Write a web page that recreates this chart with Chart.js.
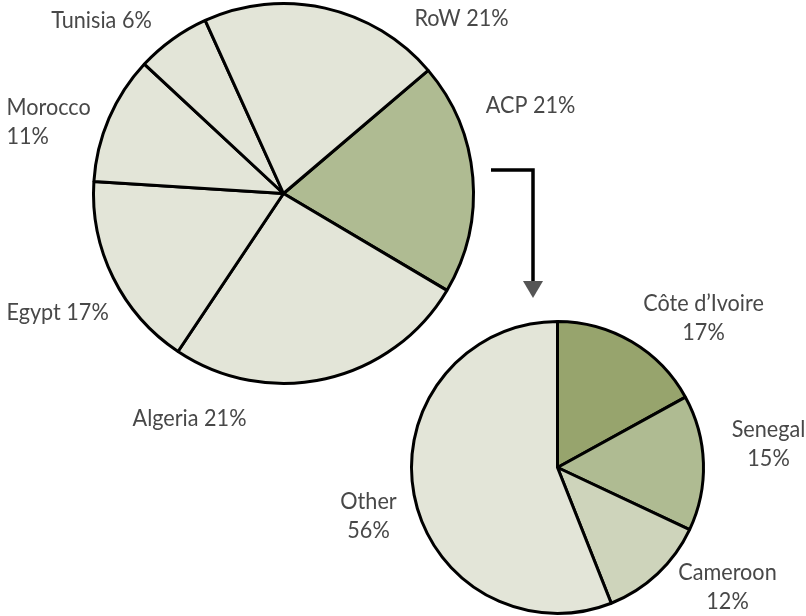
<!DOCTYPE html>
<html>
<head>
<meta charset="utf-8">
<script src="https://cdn.jsdelivr.net/npm/chart.js@4.4.1/dist/chart.umd.min.js"></script>
<style>
  html, body { margin: 0; background: #fff; }
  #wrap { position: relative; width: 806px; height: 616px; }
  #wrap canvas { position: absolute; left: 0; top: 0; }
</style>
</head>
<body>
<div id="wrap">
  <canvas id="exportPie" width="806" height="616"></canvas>
  <canvas id="acpPie" width="806" height="616"></canvas>
</div>
<script>
// export destinations (big pie), clockwise from ACP
const exportNames = ['ACP', 'Algeria', 'Egypt', 'Morocco', 'Tunisia', 'RoW'];
const exportValues = [19.7, 25.8, 16.6, 10.9, 6.3, 20.5];
const exportPct = ['21%', '21%', '17%', '11%', '6%', '21%'];
const exportColors = ['#afbb92', '#e3e5d8', '#e3e5d8', '#e3e5d8', '#e3e5d8', '#e3e5d8'];

// breakdown of ACP share (small pie), clockwise from top
const acpNames = ['Côte d’Ivoire', 'Senegal', 'Cameroon', 'Other'];
const acpValues = [17, 15, 12, 56];
const acpPct = ['17%', '15%', '12%', '56%'];
const acpColors = ['#97a46d', '#afbb92', '#ced4bb', '#e3e5d8'];

// where each label sits, offset from the pie centre
const exportSpots = [
  { dx: 247, dy: -88 },
  { dx: -94, dy: 225 },
  { dx: -277, dy: 119, align: 'left' },
  { dx: -277, dy: -86, align: 'left', split: true },
  { dx: -182, dy: -173 },
  { dx: 178, dy: -175 }
];
const acpSpots = [
  { dx: 146, dy: -164, split: true },
  { dx: 211, dy: -38, split: true },
  { dx: 170, dy: 105, split: true },
  { dx: -189, dy: 34, split: true }
];

const squeeze = 0.94;

const pieLabels = {
  id: 'pieLabels',
  afterDraw(chart, args, opts) {
    const arc = chart.getDatasetMeta(0).data[0];
    const ctx = chart.ctx;
    ctx.save();
    ctx.font = '23px Lato, "DejaVu Sans Condensed", sans-serif';
    ctx.fillStyle = '#484848';
    ctx.textBaseline = 'middle';
    opts.spots.forEach((s, i) => {
      ctx.textAlign = s.align || 'center';
      const name = chart.data.labels[i];
      const lines = s.split ? [name, opts.pct[i]] : [name + ' ' + opts.pct[i]];
      lines.forEach((line, k) => {
        const tx = arc.x + s.dx;
        const ty = arc.y + s.dy + k * 29;
        ctx.save();
        ctx.translate(tx, ty);
        ctx.scale(squeeze, 1);
        ctx.fillText(line, 0, 0);
        ctx.restore();
      });
    });
    ctx.restore();
  }
};

const elbowArrow = {
  id: 'elbowArrow',
  afterDraw(chart) {
    const ctx = chart.ctx;
    ctx.save();
    ctx.strokeStyle = '#000';
    ctx.lineWidth = 3.5;
    ctx.beginPath();
    ctx.moveTo(491, 170);
    ctx.lineTo(533, 170);
    ctx.lineTo(533, 283);
    ctx.stroke();
    ctx.fillStyle = '#555';
    ctx.beginPath();
    ctx.moveTo(523, 281);
    ctx.lineTo(543, 281);
    ctx.lineTo(533, 298);
    ctx.closePath();
    ctx.fill();
    ctx.restore();
  }
};

function pieOptions(rotation, padding, spots, pct) {
  return {
    responsive: false,
    animation: false,
    rotation: rotation,
    layout: { padding: padding },
    plugins: {
      legend: { display: false },
      tooltip: { enabled: false },
      pieLabels: { spots: spots, pct: pct }
    }
  };
}

new Chart(document.getElementById('exportPie'), {
  type: 'pie',
  data: {
    labels: exportNames,
    datasets: [{
      data: exportValues,
      backgroundColor: exportColors,
      borderColor: '#000',
      borderWidth: 3
    }]
  },
  options: pieOptions(49.6, { left: 92, right: 331, top: 2, bottom: 231 }, exportSpots, exportPct),
  plugins: [pieLabels, elbowArrow]
});

new Chart(document.getElementById('acpPie'), {
  type: 'pie',
  data: {
    labels: acpNames,
    datasets: [{
      data: acpValues,
      backgroundColor: acpColors,
      borderColor: '#000',
      borderWidth: 3
    }]
  },
  options: pieOptions(0, { left: 410, right: 101, top: 320, bottom: 1 }, acpSpots, acpPct),
  plugins: [pieLabels]
});
</script>
</body>
</html>
